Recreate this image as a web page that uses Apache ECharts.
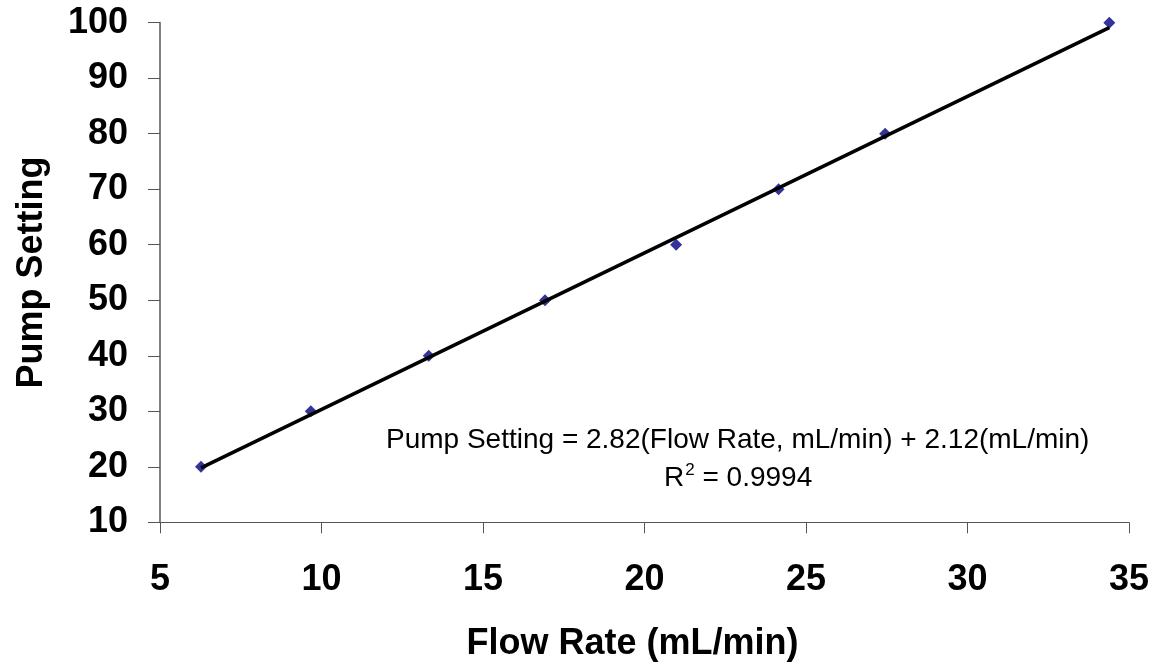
<!DOCTYPE html>
<html>
<head>
<meta charset="utf-8">
<script src="https://cdn.jsdelivr.net/npm/echarts@6/dist/echarts.min.js"></script>
<style>
html,body{margin:0;padding:0;background:#fff;}
#chart{width:1163px;height:669px;}
</style>
</head>
<body>
<div id="chart"></div>
<script>
// Data
const flowRate = [6.27, 9.67, 13.32, 16.92, 20.98, 24.15, 27.45, 34.39];
const pumpSetting = [20, 30, 40, 50, 60, 70, 80, 100];
// Trendline (from the chart's equation)
const trendSlope = 2.82;
const trendIntercept = 2.12;
const equationText = 'Pump Setting = 2.82(Flow Rate, mL/min) + 2.12(mL/min)';
const r2Value = '0.9994';
const xTitle = 'Flow Rate (mL/min)';
const yTitle = 'Pump Setting';

const FONT = '"Liberation Sans", Arial, sans-serif';
const points = flowRate.map((x, i) => [x, pumpSetting[i]]);
const xMin = Math.min(...flowRate), xMax = Math.max(...flowRate);
const trend = [[xMin, trendSlope * xMin + trendIntercept], [xMax, trendSlope * xMax + trendIntercept]];

const chart = echarts.init(document.getElementById('chart'), null, {renderer: 'canvas'});
chart.setOption({
  animation: false,
  backgroundColor: '#ffffff',
  grid: {left: 160, right: 34, top: 22.7, bottom: 146.7, containLabel: false},
  xAxis: {
    type: 'value', min: 5, max: 35, interval: 5,
    splitLine: {show: false},
    axisLine: {show: true, onZero: false, lineStyle: {color: '#555555', width: 1}},
    axisTick: {show: true, inside: false, length: 11, lineStyle: {color: '#555555', width: 1}},
    axisLabel: {margin: 40, fontFamily: FONT, fontWeight: 'bold', fontSize: 36, color: '#000'},
    name: xTitle, nameLocation: 'middle', nameGap: 104,
    nameTextStyle: {fontFamily: FONT, fontWeight: 'bold', fontSize: 36, color: '#000', padding: [0, 24, 0, 0]}
  },
  yAxis: {
    type: 'value', min: 10, max: 100, interval: 10,
    splitLine: {show: false},
    axisLine: {show: true, onZero: false, lineStyle: {color: '#808080', width: 2}},
    axisTick: {show: true, inside: false, length: 12, lineStyle: {color: '#555555', width: 1}},
    axisLabel: {margin: 32, fontFamily: FONT, fontWeight: 'bold', fontSize: 36, color: '#000'},
    name: yTitle, nameLocation: 'middle', nameGap: 110, nameRotate: 90,
    nameTextStyle: {fontFamily: FONT, fontWeight: 'bold', fontSize: 36, color: '#000'}
  },
  series: [
    {
      type: 'scatter', data: points, symbol: 'diamond', symbolSize: 12,
      itemStyle: {color: '#000080'}, z: 2
    },
    {
      type: 'line', data: trend, symbol: 'none', silent: true,
      lineStyle: {color: '#000000', width: 3.5}, z: 3
    }
  ],
  graphic: [
    {
      type: 'text', left: 386, top: 426, z: 10,
      style: {text: equationText, font: '28px ' + FONT, fill: '#000'}
    },
    {
      type: 'text', left: 664, top: 462, z: 10,
      style: {
        text: '{a|R}{s|2}{a| = ' + r2Value + '}',
        rich: {
          a: {font: '28px ' + FONT, fill: '#000', verticalAlign: 'bottom'},
          s: {font: '17px ' + FONT, fill: '#000', verticalAlign: 'bottom', padding: [0, 0, 13, 1]}
        }
      }
    }
  ]
});
</script>
</body>
</html>
